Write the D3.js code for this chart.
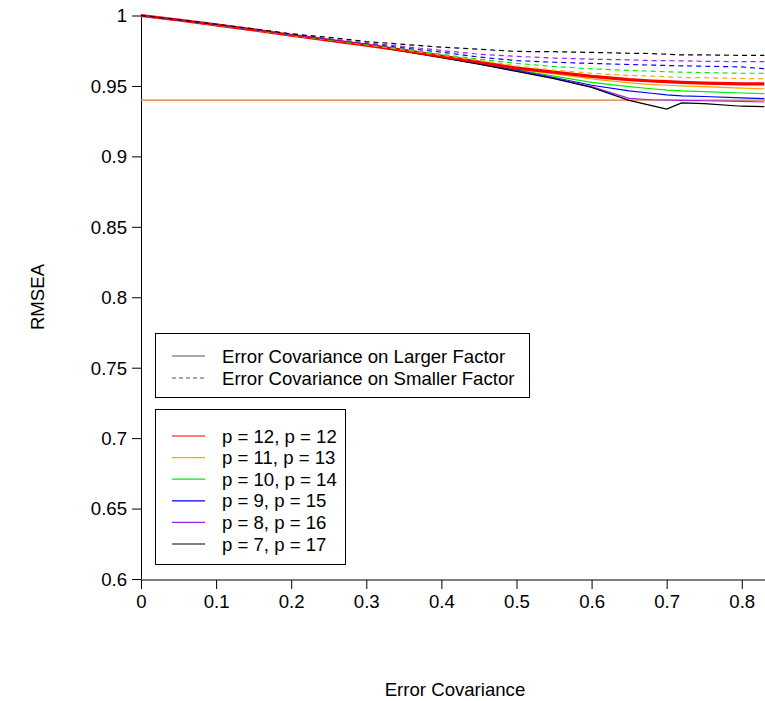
<!DOCTYPE html>
<html><head><meta charset="utf-8">
<script src="https://cdn.jsdelivr.net/npm/d3@7"></script>
<style>body{margin:0;background:#fff}svg{display:block;font-family:"Liberation Sans",Arial,sans-serif}</style>
</head><body><svg id="c" width="765" height="701"></svg>
<script>
const xs = [0, 0.05, 0.1, 0.15, 0.2, 0.25, 0.3, 0.35, 0.4, 0.45, 0.5, 0.55, 0.6, 0.65, 0.68, 0.7, 0.72, 0.75, 0.8, 0.83];
const redSolid    = [1.0, 0.9968, 0.9933, 0.9898, 0.986, 0.9825, 0.979, 0.9752, 0.9712, 0.967, 0.9627, 0.9598, 0.9568, 0.9545, 0.9535, 0.953, 0.9525, 0.952, 0.9515, 0.9515];
const orangeSolid = [1.0, 0.9968, 0.9933, 0.9898, 0.986, 0.9825, 0.979, 0.9752, 0.971, 0.9667, 0.962, 0.9585, 0.955, 0.9522, 0.951, 0.9505, 0.95, 0.9495, 0.9485, 0.948];
const greenSolid  = [1.0, 0.9968, 0.9933, 0.9898, 0.986, 0.9825, 0.979, 0.975, 0.9708, 0.9663, 0.9615, 0.957, 0.9525, 0.9495, 0.948, 0.947, 0.9465, 0.946, 0.945, 0.9445];
const blueSolid   = [1.0, 0.9968, 0.9933, 0.9898, 0.986, 0.9825, 0.979, 0.975, 0.9705, 0.966, 0.961, 0.956, 0.9505, 0.9465, 0.9448, 0.9436, 0.943, 0.9425, 0.9415, 0.941];
const purpleSolid = [1.0, 0.9968, 0.9933, 0.9898, 0.986, 0.9825, 0.979, 0.9748, 0.9703, 0.9657, 0.9606, 0.9555, 0.9495, 0.9412, 0.9402, 0.94, 0.9398, 0.9395, 0.939, 0.9386];
const blackSolid  = [1.0, 0.9968, 0.9933, 0.9898, 0.986, 0.9825, 0.979, 0.9745, 0.970, 0.9655, 0.9603, 0.9552, 0.949, 0.9398, 0.936, 0.9336, 0.938, 0.9375, 0.9356, 0.9353];
const redDashed    = redSolid;
const orangeDashed = [1.0, 0.9968, 0.9933, 0.9898, 0.986, 0.9826, 0.9792, 0.9755, 0.9718, 0.968, 0.9643, 0.9612, 0.959, 0.9575, 0.957, 0.9565, 0.956, 0.9558, 0.9553, 0.9551];
const greenDashed  = [1.0, 0.9968, 0.9934, 0.9899, 0.9862, 0.9828, 0.9795, 0.976, 0.9725, 0.969, 0.966, 0.9638, 0.9622, 0.961, 0.9605, 0.960, 0.9598, 0.9595, 0.959, 0.959];
const blueDashed   = [1.0, 0.9968, 0.9935, 0.990, 0.9864, 0.983, 0.980, 0.977, 0.974, 0.9705, 0.968, 0.9668, 0.966, 0.9652, 0.9648, 0.9645, 0.9643, 0.964, 0.9635, 0.9622];
const purpleDashed = [1.0, 0.9969, 0.9936, 0.9902, 0.9866, 0.9835, 0.9805, 0.978, 0.9752, 0.9725, 0.971, 0.9698, 0.969, 0.9685, 0.968, 0.968, 0.9678, 0.9675, 0.9672, 0.9672];
const blackDashed  = [1.0, 0.997, 0.9938, 0.9905, 0.987, 0.9845, 0.9815, 0.9795, 0.9775, 0.976, 0.9745, 0.9743, 0.9738, 0.9732, 0.973, 0.9725, 0.972, 0.972, 0.9717, 0.9717];
const refLine = 0.94;
const xTicks = [0, 0.1, 0.2, 0.3, 0.4, 0.5, 0.6, 0.7, 0.8];
const yTicks = [0.6, 0.65, 0.7, 0.75, 0.8, 0.85, 0.9, 0.95, 1];
const legendStyle = ["Error Covariance on Larger Factor", "Error Covariance on Smaller Factor"];
const legendP = ["p = 12, p = 12", "p = 11, p = 13", "p = 10, p = 14", "p = 9, p = 15", "p = 8, p = 16", "p = 7, p = 17"];
const colors = ["#FF0000", "#FFA500", "#00EE00", "#0000FF", "#A020F0", "#000000"];

const FS = 18.6;
const svg = d3.select("#c");
const x = d3.scaleLinear().domain([0, 0.83]).range([141, 764.3]);
const y = d3.scaleLinear().domain([0.6, 1]).range([579, 15.5]);

// axes
const gx = svg.append("g").attr("transform", `translate(0,${y(0.6)+1})`)
  .call(d3.axisBottom(x).tickValues(xTicks).tickFormat(d3.format("")).tickSize(9).tickPadding(6).tickSizeOuter(0));
const gy = svg.append("g").attr("transform", `translate(${x(0)},0)`)
  .call(d3.axisLeft(y).tickValues(yTicks).tickFormat(d => String(d)).tickSize(9).tickPadding(5).tickSizeOuter(0));
[gx, gy].forEach(g => {
  g.selectAll("text").attr("font-size", FS).attr("fill", "#000").attr("font-family", '"Liberation Sans",Arial,sans-serif');
  g.selectAll("line,path").attr("stroke", "#000");
});
gy.selectAll("text").attr("dy", "0.34em");
gx.select(".domain").attr("d", `M${x(0)},0H765`);

svg.append("text").attr("x", 455).attr("y", 696).attr("text-anchor", "middle").attr("font-size", FS).text("Error Covariance");
svg.append("text").attr("transform", "translate(44,297) rotate(-90)").attr("text-anchor", "middle").attr("font-size", FS).text("RMSEA");

// reference line
svg.append("line").attr("x1", x(0)).attr("x2", 765).attr("y1", y(refLine)).attr("y2", y(refLine))
  .attr("stroke", "#D97E2B").attr("stroke-width", 1.2);

const line = d3.line().x((d, i) => x(xs[i])).y(d => y(d));
const solids = [orangeSolid, greenSolid, blueSolid, purpleSolid, blackSolid];
const dashed = [orangeDashed, greenDashed, blueDashed, purpleDashed, blackDashed];
solids.forEach((s, i) => svg.append("path").attr("d", line(s)).attr("fill", "none").attr("stroke", colors[i+1]).attr("stroke-width", 1.2));
svg.append("path").attr("d", line(redSolid)).attr("fill", "none").attr("stroke", colors[0]).attr("stroke-width", 3.2);
svg.append("path").attr("d", line(redDashed)).attr("fill", "none").attr("stroke", colors[0]).attr("stroke-width", 1.2).attr("stroke-dasharray", "5,4");
dashed.forEach((s, i) => svg.append("path").attr("d", line(s)).attr("fill", "none").attr("stroke", colors[i+1]).attr("stroke-width", 1.2).attr("stroke-dasharray", "5,4"));

// legend 1
const l1 = svg.append("g");
l1.append("rect").attr("x", 155.5).attr("y", 333.5).attr("width", 374).attr("height", 64).attr("fill", "#fff").attr("stroke", "#000");
legendStyle.forEach((t, i) => {
  const yy = 356 + i * 22;
  l1.append("line").attr("x1", 172).attr("x2", 205).attr("y1", yy).attr("y2", yy).attr("stroke", "#555").attr("stroke-dasharray", i ? "4,3" : null);
  l1.append("text").attr("x", 222).attr("y", yy + 6.5).attr("font-size", FS).text(t);
});
// legend 2
const l2 = svg.append("g");
l2.append("rect").attr("x", 155.5).attr("y", 409.5).attr("width", 190).attr("height", 155).attr("fill", "#fff").attr("stroke", "#000");
legendP.forEach((t, i) => {
  const yy = 436 + i * 21.6;
  l2.append("line").attr("x1", 172).attr("x2", 205).attr("y1", yy).attr("y2", yy).attr("stroke", colors[i]).attr("stroke-width", 1.2);
  l2.append("text").attr("x", 222).attr("y", yy + 6.5).attr("font-size", FS).text(t);
});
</script></body></html>
